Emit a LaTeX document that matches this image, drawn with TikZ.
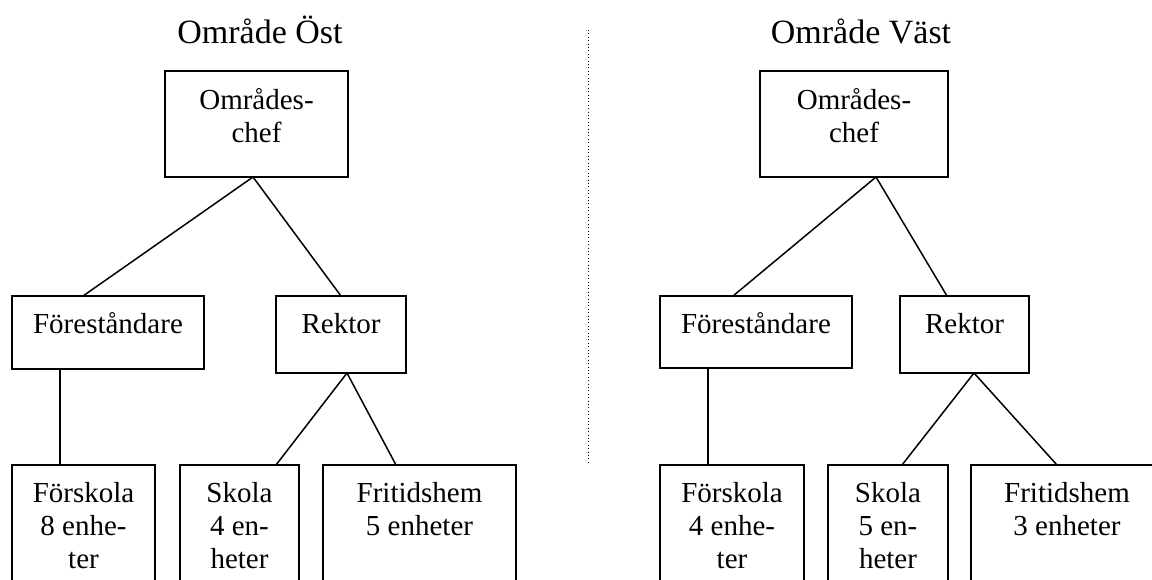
\documentclass[tikz,border=0pt]{standalone}
\usepackage{fontspec}
\setmainfont{Liberation Serif}
\newcommand\mlines[1]{\begin{tabular}[t]{@{}c@{}}#1\end{tabular}}
\tikzset{
  box/.style={draw=black, line width=1.6pt, inner sep=0pt, outer sep=0pt, fill=none},
  lbl/.style={inner sep=0pt, anchor=base, font=\fontsize{29}{33}\selectfont},
  ttl/.style={inner sep=0pt, anchor=base, font=\fontsize{34}{40}\selectfont},
  conn/.style={draw=black, line width=1.5pt},
  sep/.style={draw=black, line width=1pt, dash pattern=on 1pt off 2.4pt}
}
\begin{document}
\begin{tikzpicture}[x=1pt,y=-1pt]
\clip (0,0) rectangle (1152,579);
\fill[white] (0,0) rectangle (1152,579);

% ---------- Område Öst ----------
\node[ttl] (titleE) at (260,43) {Område Öst};
\node[box, minimum width=183, minimum height=106, anchor=north west] (chefE) at (165,71) {};
\node[lbl] (chefEt) at (256.5,109) {\mlines{Områdes-\\chef}};
\node[box, minimum width=192, minimum height=73, anchor=north west] (forE) at (12,296) {};
\node[lbl] (forEt) at (108,333) {Föreståndare};
\node[box, minimum width=130, minimum height=77, anchor=north west] (rekE) at (276,296) {};
\node[lbl] (rekEt) at (341,333) {Rektor};
\node[box, minimum width=143, minimum height=140, anchor=north west] (forskE) at (12,465) {};
\node[lbl] (forskEt) at (83.5,502) {\mlines{Förskola\\8 enhe-\\ter}};
\node[box, minimum width=119, minimum height=140, anchor=north west] (skolaE) at (180,465) {};
\node[lbl] (skolaEt) at (239.5,502) {\mlines{Skola\\4 en-\\heter}};
\node[box, minimum width=193, minimum height=140, anchor=north west] (fritE) at (323,465) {};
\node[lbl] (fritEt) at (419.5,502) {\mlines{Fritidshem\\5 enheter}};

\draw[conn] ([xshift=-3.5pt]chefE.south) -- ([xshift=-25pt]forE.north);
\draw[conn] ([xshift=-3.5pt]chefE.south) -- (rekE.north);
\draw[conn] ([xshift=-48pt]forE.south) -- ([xshift=-23.5pt]forskE.north);
\draw[conn] ([xshift=6pt]rekE.south) -- ([xshift=36.5pt]skolaE.north);
\draw[conn] ([xshift=6pt]rekE.south) -- ([xshift=-23.5pt]fritE.north);

% ---------- separator ----------
\coordinate (sepTop) at (588,30);
\coordinate (sepBot) at (588,462);
\draw[sep] (sepTop) -- (sepBot);

% ---------- Område Väst ----------
\node[ttl] (titleV) at (861,43) {Område Väst};
\node[box, minimum width=188, minimum height=106, anchor=north west] (chefV) at (760,71) {};
\node[lbl] (chefVt) at (854,109) {\mlines{Områdes-\\chef}};
\node[box, minimum width=192, minimum height=72, anchor=north west] (forV) at (660,296) {};
\node[lbl] (forVt) at (756,333) {Föreståndare};
\node[box, minimum width=129, minimum height=77, anchor=north west] (rekV) at (900,296) {};
\node[lbl] (rekVt) at (964.5,333) {Rektor};
\node[box, minimum width=144, minimum height=140, anchor=north west] (forskV) at (660,465) {};
\node[lbl] (forskVt) at (732,502) {\mlines{Förskola\\4 enhe-\\ter}};
\node[box, minimum width=120, minimum height=140, anchor=north west] (skolaV) at (828,465) {};
\node[lbl] (skolaVt) at (888,502) {\mlines{Skola\\5 en-\\heter}};
\node[box, minimum width=192, minimum height=140, anchor=north west] (fritV) at (971,465) {};
\node[lbl] (fritVt) at (1067,502) {\mlines{Fritidshem\\3 enheter}};

\draw[conn] ([xshift=22pt]chefV.south) -- ([xshift=-23pt]forV.north);
\draw[conn] ([xshift=22pt]chefV.south) -- ([xshift=-17.5pt]rekV.north);
\draw[conn] ([xshift=-48pt]forV.south) -- ([xshift=-24pt]forskV.north);
\draw[conn] ([xshift=9.5pt]rekV.south) -- ([xshift=14pt]skolaV.north);
\draw[conn] ([xshift=9.5pt]rekV.south) -- ([xshift=-10pt]fritV.north);
\end{tikzpicture}
\end{document}
